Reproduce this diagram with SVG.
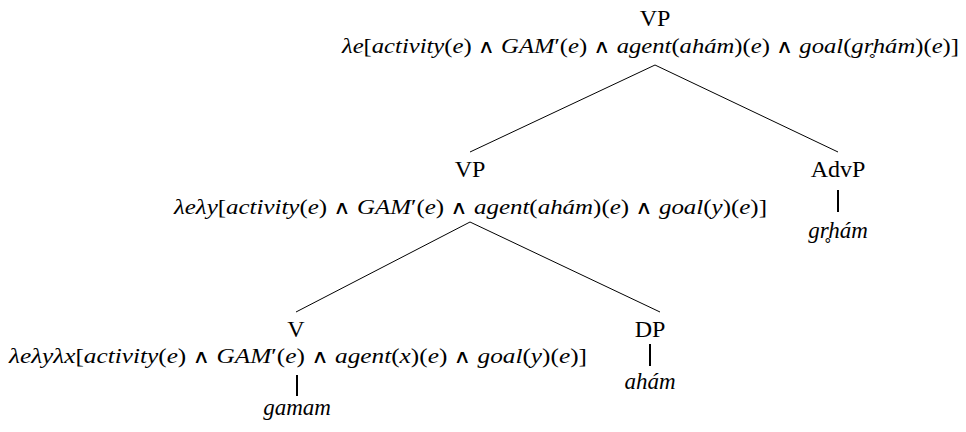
<svg xmlns="http://www.w3.org/2000/svg" width="966" height="432" viewBox="0 0 966 432">
<style>
.lab{font-family:"Liberation Serif","DejaVu Serif",serif;font-size:24px;fill:#000;text-anchor:middle}
.f{font-family:"Liberation Serif","DejaVu Serif",serif;font-size:20px;font-style:italic;fill:#000}
.w{font-family:"Liberation Serif","DejaVu Serif",serif;font-size:23px;font-style:italic;fill:#000;text-anchor:middle}
.u{font-style:normal}
.a{font-style:normal;font-family:"DejaVu Serif",serif;font-size:19px}
.e{stroke:#000;stroke-width:1;fill:none}
.t{stroke:#000;stroke-width:2;fill:none}
</style>
<g id="connectors">
<line class="e" x1="655" y1="65" x2="470" y2="152"/>
<line class="e" x1="655" y1="65" x2="838" y2="152"/>
<line class="e" x1="470" y1="222" x2="296" y2="312"/>
<line class="e" x1="470" y1="222" x2="660" y2="312"/>
<line class="t" x1="838" y1="190" x2="838" y2="212"/>
<line class="t" x1="297" y1="375" x2="297" y2="396"/>
<line class="t" x1="650" y1="344" x2="650" y2="366"/>
</g>
<g id="vp-top">
<text class="lab" x="655" y="26">VP</text>
<text class="f" x="342" y="53" textLength="617" lengthAdjust="spacingAndGlyphs">λe<tspan class="u">[</tspan>activity<tspan class="u">(</tspan>e<tspan class="u">) </tspan><tspan class="a">∧</tspan> GAM<tspan class="u">′(</tspan>e<tspan class="u">) </tspan><tspan class="a">∧</tspan> agent<tspan class="u">(</tspan>ahám<tspan class="u">)(</tspan>e<tspan class="u">) </tspan><tspan class="a">∧</tspan> goal<tspan class="u">(</tspan>gr̥hám<tspan class="u">)(</tspan>e<tspan class="u">)]</tspan></text>
</g>
<g id="vp-mid">
<text class="lab" x="470" y="177">VP</text>
<text class="f" x="174" y="214" textLength="593" lengthAdjust="spacingAndGlyphs">λeλy<tspan class="u">[</tspan>activity<tspan class="u">(</tspan>e<tspan class="u">) </tspan><tspan class="a">∧</tspan> GAM<tspan class="u">′(</tspan>e<tspan class="u">) </tspan><tspan class="a">∧</tspan> agent<tspan class="u">(</tspan>ahám<tspan class="u">)(</tspan>e<tspan class="u">) </tspan><tspan class="a">∧</tspan> goal<tspan class="u">(</tspan>y<tspan class="u">)(</tspan>e<tspan class="u">)]</tspan></text>
</g>
<g id="advp">
<text class="lab" x="838" y="177">AdvP</text>
<text class="w" x="838" y="238">gr̥hám</text>
</g>
<g id="v">
<text class="lab" x="296" y="337">V</text>
<text class="f" x="9" y="363" textLength="578" lengthAdjust="spacingAndGlyphs">λeλyλx<tspan class="u">[</tspan>activity<tspan class="u">(</tspan>e<tspan class="u">) </tspan><tspan class="a">∧</tspan> GAM<tspan class="u">′(</tspan>e<tspan class="u">) </tspan><tspan class="a">∧</tspan> agent<tspan class="u">(</tspan>x<tspan class="u">)(</tspan>e<tspan class="u">) </tspan><tspan class="a">∧</tspan> goal<tspan class="u">(</tspan>y<tspan class="u">)(</tspan>e<tspan class="u">)]</tspan></text>
<text class="w" x="297" y="415">gamam</text>
</g>
<g id="dp">
<text class="lab" x="650" y="337">DP</text>
<text class="w" x="650" y="389">ahám</text>
</g>
</svg>
